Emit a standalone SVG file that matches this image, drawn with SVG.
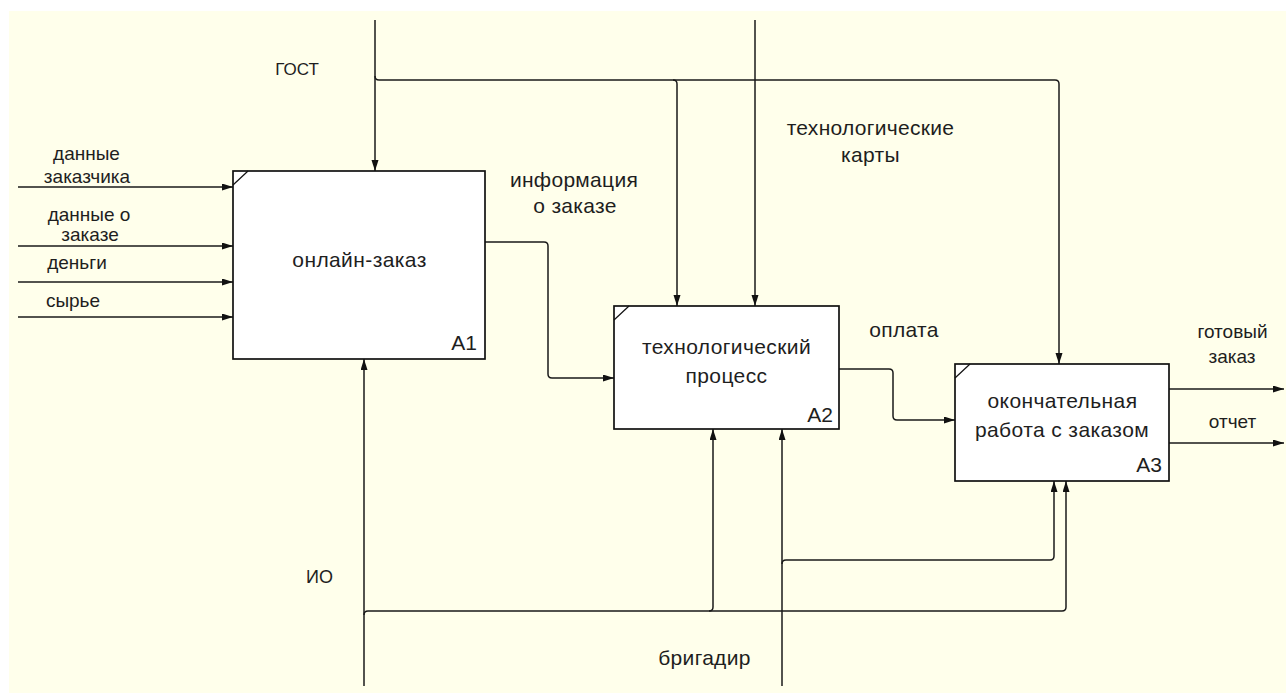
<svg xmlns="http://www.w3.org/2000/svg" width="1286" height="693" viewBox="0 0 1286 693">
<defs>
<marker id="arr" markerWidth="12" markerHeight="8" refX="11" refY="3.5" orient="auto" markerUnits="userSpaceOnUse">
<path d="M0,0 L11,3.5 L0,7 z" fill="#111"/>
</marker>
<style>
.bg{fill:#FFFFEB}
.box{fill:#fff;stroke:#111;stroke-width:1.7}
.corner{stroke:#111;stroke-width:1.2;fill:none}
.ln{fill:none;stroke:#1a1a1a;stroke-width:1.5;marker-end:url(#arr)}
.pl{fill:none;stroke:#1a1a1a;stroke-width:1.5}
text{font-family:"Liberation Sans",Arial,sans-serif;fill:#1e1e1e}
.bt{font-size:21px;text-anchor:middle;letter-spacing:0.4px}
.an{font-size:21px;text-anchor:end}
.lb{font-size:19px;text-anchor:middle}
.lg{font-size:21px;text-anchor:middle;letter-spacing:0.3px}
</style>
</defs>
<rect class="bg" x="9" y="11" width="1277" height="682"/>

<g id="connectors">
<!-- left inputs -->
<path class="ln" d="M18,187 H233"/>
<path class="ln" d="M18,246 H233"/>
<path class="ln" d="M18,282 H233"/>
<path class="ln" d="M18,317 H233"/>
<!-- ГОСТ -->
<path class="ln" d="M375,20 V171"/>
<path class="pl" d="M375,76 Q375,80 379,80 H1055 Q1059,80 1059,84"/>
<path class="ln" d="M1059,84 V364"/>
<path class="ln" d="M673,80 Q677,80 677,84 V306"/>
<!-- технологические карты -->
<path class="ln" d="M755,20 V306"/>
<!-- информация о заказе -->
<path class="ln" d="M485,242 H544 Q548,242 548,246 V374 Q548,378 552,378 H614"/>
<!-- оплата -->
<path class="ln" d="M839,369 H889 Q893,369 893,373 V416 Q893,420 897,420 H955"/>
<!-- outputs -->
<path class="ln" d="M1169,389 H1284"/>
<path class="ln" d="M1169,443 H1284"/>
<!-- ИО -->
<path class="ln" d="M364,686 V359"/>
<path class="pl" d="M364,615 Q364,611 368,611 H1062 Q1066,611 1066,607"/>
<path class="ln" d="M1066,607 V481"/>
<path class="ln" d="M709,611 Q713,611 713,607 V429"/>
<!-- бригадир -->
<path class="ln" d="M782,686 V429"/>
<path class="pl" d="M782,564 Q782,560 786,560 H1050 Q1054,560 1054,556"/>
<path class="ln" d="M1054,556 V481"/>
</g>

<g id="A1">
<rect class="box" x="233" y="171" width="252" height="188"/>
<path class="corner" d="M233,185 L248,171"/>
<text class="bt" x="359.5" y="267">онлайн-заказ</text>
<text class="an" x="477" y="350">A1</text>
</g>

<g id="A2">
<rect class="box" x="614" y="306" width="225" height="123"/>
<path class="corner" d="M614,320 L629,306"/>
<text class="bt" x="726.5" y="354">технологический</text>
<text class="bt" x="726.5" y="383">процесс</text>
<text class="an" x="833" y="422">A2</text>
</g>

<g id="A3">
<rect class="box" x="955" y="364" width="214" height="117"/>
<path class="corner" d="M955,378 L970,364"/>
<text class="bt" x="1062.5" y="408">окончательная</text>
<text class="bt" x="1062" y="437">работа с заказом</text>
<text class="an" x="1162" y="472">A3</text>
</g>

<g id="labels">
<text class="lb" x="86.5" y="160">данные</text>
<text class="lb" x="87" y="183">заказчика</text>
<text class="lb" x="89" y="221">данные о</text>
<text class="lb" x="90" y="241">заказе</text>
<text class="lb" x="77" y="269">деньги</text>
<text class="lb" x="73" y="307">сырье</text>
<text class="lb" x="297" y="75" style="font-size:17px">ГОСТ</text>
<text class="lg" x="574" y="187">информация</text>
<text class="lg" x="575" y="213">о заказе</text>
<text class="lg" x="870.5" y="135">технологические</text>
<text class="lg" x="870.5" y="162">карты</text>
<text class="lg" x="904" y="337">оплата</text>
<text class="lb" x="1232.5" y="338">готовый</text>
<text class="lb" x="1232" y="363">заказ</text>
<text class="lb" x="1232.5" y="428">отчет</text>
<text class="lb" x="319.5" y="583" style="font-size:18px">ИО</text>
<text class="lg" x="704.5" y="665">бригадир</text>
</g>
</svg>
